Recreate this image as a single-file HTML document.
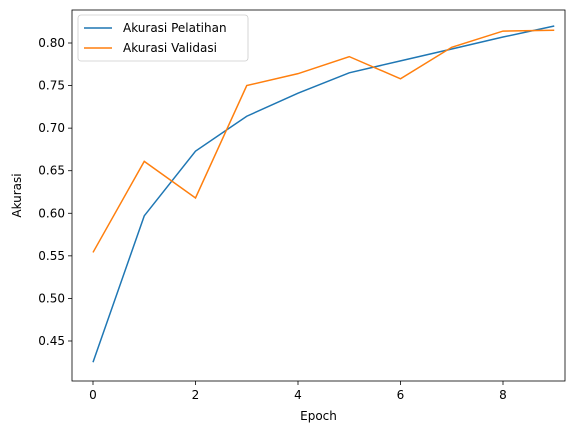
<!DOCTYPE html>
<html><head><meta charset="utf-8"><style>
body{margin:0;background:#fff;}
svg{display:block;font-family:"DejaVu Sans","Liberation Sans",sans-serif;}
</style></head><body>
<svg id="chart" width="573" height="430"></svg>
<script>
const epochs=[0,1,2,3,4,5,6,7,8,9];
const trainAcc=[0.425,0.597,0.673,0.714,0.741,0.765,0.779,0.793,0.807,0.820];
const valAcc=[0.554,0.661,0.618,0.750,0.764,0.784,0.758,0.795,0.814,0.815];
const xTicks=[0,2,4,6,8];
const yTicks=[0.45,0.50,0.55,0.60,0.65,0.70,0.75,0.80];
const NS="http://www.w3.org/2000/svg";
const svg=document.getElementById('chart');
const L=72,R=565,T=10,B=381;
function xs(v){return 93+v*51.25;}
function ys(v){return 43+(0.80-v)/0.05*42.57;}
function mk(tag,attrs,parent){const e=document.createElementNS(NS,tag);for(const k in attrs)e.setAttribute(k,attrs[k]);(parent||svg).appendChild(e);return e;}
const frame=mk('rect',{x:L,y:T,width:R-L,height:B-T,fill:'none',stroke:'#000','stroke-width':0.8});


xTicks.forEach(t=>{
  const g=mk('g',{});
  
  
  mk('line',{x1:xs(t),x2:xs(t),y1:B,y2:B+4,stroke:'#000','stroke-width':0.8},g);
  const tx=mk('text',{x:xs(t),y:B+18,'font-size':12,'text-anchor':'middle'},g);tx.textContent=t;
});
yTicks.forEach(t=>{
  const g=mk('g',{});
  
  
  mk('line',{x1:L-4,x2:L,y1:ys(t),y2:ys(t),stroke:'#000','stroke-width':0.8},g);
  const tx=mk('text',{x:L-7,y:ys(t)+4,'font-size':12,'text-anchor':'end'},g);tx.textContent=t.toFixed(2);
});
const xl=mk('text',{x:(L+R)/2,y:420,'font-size':12,'text-anchor':'middle'});xl.textContent='Epoch';


const yl=mk('text',{x:0,y:0,'font-size':12,'text-anchor':'middle',transform:`translate(21,${(T+B)/2}) rotate(-90)`});yl.textContent='Akurasi';


function line(vals,color,name){
  const p=mk('polyline',{points:vals.map((v,i)=>xs(epochs[i])+','+ys(v)).join(' '),fill:'none',stroke:color,'stroke-width':1.5});
  
  
}
line(trainAcc,'#1f77b4','train-accuracy-line');
line(valAcc,'#ff7f0e','validation-accuracy-line');
const lg=mk('g',{});


mk('rect',{x:78,y:15,width:170,height:46,rx:3,fill:'#fff',stroke:'#ccc','stroke-width':0.8},lg);
[['Akurasi Pelatihan','#1f77b4'],['Akurasi Validasi','#ff7f0e']].forEach((e,i)=>{
  const g=mk('g',{},lg);
  
  
  const y=28+i*20;
  mk('line',{x1:84,x2:112,y1:y,y2:y,stroke:e[1],'stroke-width':1.5},g);
  const t=mk('text',{x:123,y:y+4,'font-size':12},g);t.textContent=e[0];
});
</script>
</body></html>
